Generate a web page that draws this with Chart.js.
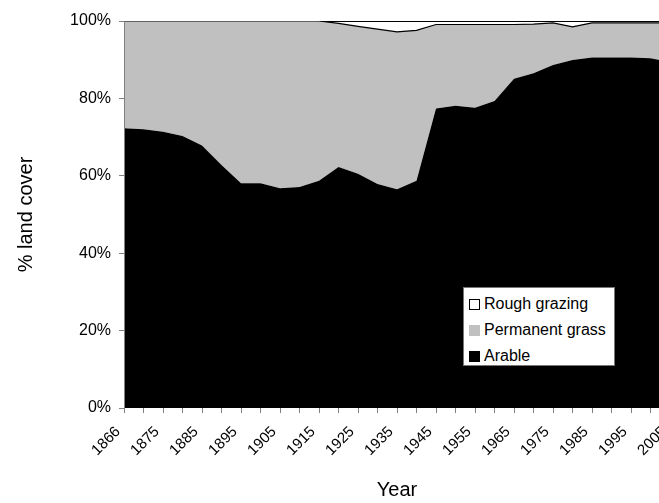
<!DOCTYPE html>
<html>
<head>
<meta charset="utf-8">
<script src="https://cdn.jsdelivr.net/npm/chart.js@4/dist/chart.umd.min.js"></script>
<style>
  html, body { margin: 0; padding: 0; overflow: hidden; background: #fff; }
  #wrap { position: relative; width: 700px; height: 503px; }
  #legend {
    position: absolute; left: 463px; top: 287px; width: 152px; height: 79px;
    background: #fff; border: 1px solid #777; box-sizing: border-box;
    font: 16px "Liberation Sans", Arial, sans-serif; color: #000;
    padding-top: 3px;
  }
  #legend .row { height: 26px; display: flex; align-items: center; padding-left: 5px; }
  #legend .box { width: 11px; height: 11px; box-sizing: border-box; margin-right: 4px; }
</style>
</head>
<body>
<div id="wrap">
  <canvas id="myChart" width="700" height="503"></canvas>
  <div id="legend"></div>
</div>
<script>
// land cover shares
const years = ['1866', '1870', '1875', '1880', '1885', '1890', '1895', '1900', '1905', '1910',
  '1915', '1920', '1925', '1930', '1935', '1940', '1945', '1950', '1955', '1960',
  '1965', '1970', '1975', '1980', '1985', '1990', '1995', '2000', '2005'];

const arable = [72.3, 72.0, 71.4, 70.3, 67.8, 62.8, 58.1, 58.1, 56.8, 57.1,
  58.7, 62.3, 60.5, 57.9, 56.5, 58.7, 77.4, 78.1, 77.6, 79.3,
  85.1, 86.5, 88.6, 89.9, 90.6, 90.6, 90.6, 90.4, 89.4];

const permanentGrass = [27.7, 28.0, 28.6, 29.7, 32.2, 37.2, 41.9, 41.9, 43.2, 42.9,
  41.3, 37.1, 38.1, 40.0, 40.7, 38.9, 21.7, 21.0, 21.5, 19.8,
  14.0, 12.7, 10.9, 8.6, 8.9, 8.9, 8.9, 9.1, 10.1];

const roughGrazing = [0, 0, 0, 0, 0, 0, 0, 0, 0, 0,
  0, 0.6, 1.4, 2.1, 2.8, 2.4, 0.9, 0.9, 0.9, 0.9,
  0.9, 0.8, 0.5, 1.5, 0.5, 0.5, 0.5, 0.5, 0.5];

const yTicks = [0, 20, 40, 60, 80, 100];

Chart.defaults.font.family = '"Liberation Sans", Arial, sans-serif';
Chart.defaults.color = '#000';

const ctx = document.getElementById('myChart');

const data = {
  labels: years,
  datasets: [
    {
      label: 'Arable',
      data: arable,
      backgroundColor: '#000000',
      borderWidth: 0,
      fill: 'origin'
    },
    {
      label: 'Permanent grass',
      data: permanentGrass,
      backgroundColor: '#c0c0c0',
      borderColor: '#000000',
      borderWidth: 1.2,
      fill: '-1'
    },
    {
      label: 'Rough grazing',
      data: roughGrazing,
      backgroundColor: '#ffffff',
      borderColor: '#000000',
      borderWidth: 2,
      fill: '-1'
    }
  ]
};

new Chart(ctx, {
  type: 'line',
  data: data,
  options: {
    responsive: false,
    animation: false,
    layout: { padding: { top: 21, right: 30, bottom: 0, left: 0 } },
    elements: { point: { radius: 0 }, line: { tension: 0 } },
    plugins: { legend: { display: false }, tooltip: { enabled: false } },
    scales: {
      x: {
        offset: false,
        grid: { drawOnChartArea: false, drawTicks: true, tickLength: 5, color: '#808080' },
        border: { display: false },
        ticks: {
          autoSkip: false, minRotation: 45, maxRotation: 45, padding: 10, labelOffset: -6,
          font: { size: 15 },
          callback: function (v, i) { return i % 2 === 0 ? this.getLabelForValue(v) : ''; }
        },
        title: { display: true, text: 'Year', font: { size: 20 }, padding: { top: 0, bottom: 1 } },
        afterFit: function (s) { s.height = 95; }
      },
      y: {
        stacked: true,
        min: 0,
        max: 100,
        afterBuildTicks: function (s) { s.ticks = yTicks.map(v => ({ value: v })); },
        grid: { drawOnChartArea: false, drawTicks: true, tickLength: 5, color: '#808080' },
        border: { display: true, color: '#808080', width: 1, z: 1 },
        ticks: { padding: 8, font: { size: 16 }, callback: v => v + '%' },
        title: { display: true, text: '% land cover', font: { size: 20 }, padding: { top: 14, bottom: 0 } },
        afterFit: function (s) { s.width = 124; }
      }
    }
  }
});

// legend box, top-down in reverse stacking order
const legend = document.getElementById('legend');
const marks = [
  ['Rough grazing', '#ffffff', '1px solid #000'],
  ['Permanent grass', '#c0c0c0', 'none'],
  ['Arable', '#000000', 'none']
];
marks.forEach(function (m) {
  const row = document.createElement('div');
  row.className = 'row';
  const box = document.createElement('span');
  box.className = 'box';
  box.style.background = m[1];
  box.style.border = m[2];
  row.appendChild(box);
  row.appendChild(document.createTextNode(m[0]));
  legend.appendChild(row);
});
</script>
</body>
</html>
